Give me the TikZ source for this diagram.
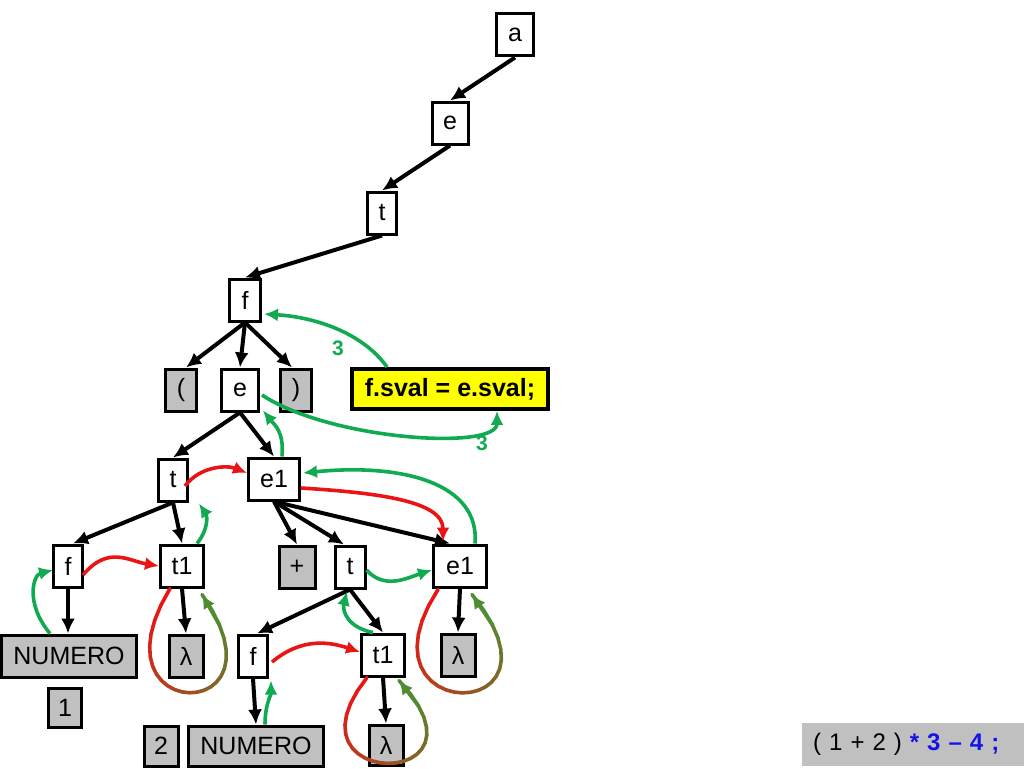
\documentclass[tikz,border=0pt]{standalone}
\usepackage{fontspec}
\setmainfont{Liberation Sans}
\usetikzlibrary{arrows.meta,calc}
\definecolor{gr}{RGB}{16,170,80}
\definecolor{rd}{RGB}{235,20,20}
\definecolor{lg}{RGB}{80,140,50}
\definecolor{gy}{RGB}{192,192,192}
\definecolor{yl}{RGB}{255,255,0}
\definecolor{bl}{RGB}{20,20,230}
\newcommand{\gradloop}[5]{%
  \path #2 .. controls +#3 and +#4 .. #5
    \foreach \k [evaluate=\k as \p using \k/24] in {0,...,24}{coordinate[pos=\p] (#1-\k)};
  \foreach \k [evaluate=\k as \m using int(\k+1), evaluate=\k as \c using int(100*\k/23)] in {0,...,23}{
    \draw[line width=3.6pt, line cap=round, color=lg!\c!rd] (#1-\k) -- (#1-\m);}
  \draw[line width=3.6pt, lg, -{Latex[length=14pt,width=13pt]}] (#1-22) -- (#1-24);
}
\begin{document}
\begin{tikzpicture}[x=1pt,y=-1pt,
  box/.style={draw=black, line width=3pt, fill=white, minimum height=42pt, minimum width=29pt, inner sep=0pt, font=\fontsize{25}{25}\selectfont},
  gbox/.style={box, fill=gy},
  tree/.style={line width=4pt, -{Latex[length=15pt,width=14pt]}},
  ga/.style={gr, line width=3.6pt, -{Latex[length=14pt,width=13pt]}},
  ra/.style={rd, line width=3.6pt, -{Latex[length=14pt,width=13pt]}},
  lab/.style={text=gr, font=\bfseries\fontsize{21}{21}\selectfont, inner sep=0pt}
]
\useasboundingbox (0,0) rectangle (1024,768);

% nodes
\node[box, minimum width=37pt] (a) at (515,35) {a};
\node[box, minimum width=36pt] (e0) at (450,123) {e};
\node[box] (t0) at (382,213) {t};
\node[box, minimum width=31pt] (f0) at (245,300) {f};
\node[gbox, minimum width=31pt] (lp) at (181,390) {(};
\node[box, minimum width=37pt] (e2) at (240,390) {e};
\node[gbox, minimum width=31pt] (rp) at (296,390) {)};
\node[box, fill=yl, line width=3.8pt, minimum width=196pt, minimum height=40pt, font=\bfseries\fontsize{25}{25}\selectfont] (yb) at (450,389) {f.sval = e.sval;};
\node[box] (t3) at (173,480) {t};
\node[box, minimum width=51pt] (e13) at (274,479) {e1};
\node[box] (f4) at (68,566) {f};
\node[box, minimum width=43pt] (t14) at (182,566) {t1};
\node[gbox, minimum width=36pt] (plus) at (297,567) {+};
\node[box, minimum width=30pt] (t4) at (350,567) {t};
\node[box, minimum width=53pt] (e14) at (460,566) {e1};
\node[gbox, minimum width=135pt] (num1) at (69,656) {NUMERO};
\node[gbox, minimum width=34pt] (lam1) at (186,656) {λ};
\node[box] (f5) at (253,656) {f};
\node[box, minimum width=43pt] (t15) at (383,655) {t1};
\node[gbox, minimum width=34pt] (lam3) at (458,655) {λ};
\node[gbox, minimum width=33pt, minimum height=39pt] (one) at (65,708) {1};
\node[gbox, minimum width=34pt, minimum height=40pt] (two) at (161,746) {2};
\node[gbox, minimum width=135pt, minimum height=40pt] (num2) at (256,746) {NUMERO};
\node[gbox, minimum width=34pt, minimum height=40pt] (lam2) at (386,745) {λ};
\node[fill=gy, anchor=west, text width=202pt, align=left, inner xsep=11pt, minimum height=43pt, inner ysep=0pt, font=\fontsize{24}{24}\selectfont] (expr) at (802,744) {( 1 + 2 ) \textcolor{bl}{\bfseries * 3 – 4 ;}};

% tree edges
\draw[tree] (a.south) -- (e0.north);
\draw[tree] (e0.south) -- (t0.north);
\draw[tree] (t0.south) -- (f0.north);
\draw[tree] (f0.south) -- ($(lp.north)+(5,0)$);
\draw[tree] (f0.south) -- (e2.north);
\draw[tree] (f0.south) -- ($(rp.north)+(-4,0)$);
\draw[tree] (e2.south) -- (t3.north);
\draw[tree] (e2.south) -- (e13.north);
\draw[tree] (t3.south) -- ($(f4.north)+(5,0)$);
\draw[tree] (t3.south) -- (t14.north);
\draw[tree] (e13.south) -- (plus.north);
\draw[tree] (e13.south) -- ($(t4.north)+(-6,0)$);
\draw[tree] (e13.south) -- ($(e14.north)+(-10,0)$);
\draw[tree] (f4.south) -- (f4.south |- num1.north);
\draw[tree] (t14.south) -- (lam1.north);
\draw[tree] (t4.south) -- ($(f5.north)+(4,0)$);
\draw[tree] (t4.south) -- (t15.north);
\draw[tree] (e14.south) -- (lam3.north);
\draw[tree] (f5.south) -- (num2.north);
\draw[tree] (t15.south) -- (lam2.north);

% green (synthesized) arrows
\draw[ga] ($(yb.north west)+(37,0)$) .. controls +(-25,-35) and +(50,3) .. ($(f0.east)+(2,14)$);
\node[lab] (l1) at (338,348) {3};
\draw[ga] ($(e2.east)+(2,5)$) .. controls +(68,45) and +(0,40) .. ($(yb.south)+(47,0)$);
\node[lab] (l2) at (482,443) {3};
\draw[ga] ($(e13.north)+(8,0)$) .. controls +(2,-25) and +(12,15) .. ($(e2.south east)+(3,-2)$);
\draw[ga] ($(e14.north)+(15,0)$) .. controls +(5,-60) and +(100,-10) .. ($(e13.east)+(2,-6)$);
\draw[ga] ($(t14.north)+(15,0)$) .. controls +(12,-15) and +(8,12) .. ($(t3.south east)+(10,1)$);
\draw[ga] ($(num1.north)+(-19,0)$) .. controls +(-25,-30) and +(-20,5) .. ($(f4.west)+(1,4)$);
\draw[ga] ($(t4.east)+(0,3)$) .. controls +(18,20) and +(-25,8) .. ($(e14.west)+(0,4)$);
\draw[ga] ($(t15.north)+(-10,0)$) .. controls +(-25,-5) and +(-5,20) .. ($(t4.south)+(-3,2)$);
\draw[ga] ($(num2.north)+(9,0)$) .. controls +(0,-20) and +(0,15) .. ($(f5.south east)+(2,2)$);

% red (inherited) arrows
\draw[ra] ($(t3.east)+(-4,6)$) .. controls +(15,-20) and +(-20,-8) .. ($(e13.west)+(0,-6)$);
\draw[ra] ($(e13.east)+(0,9)$) .. controls +(80,5) and +(0,-40) .. ($(e14.north)+(-17,-2)$);
\draw[ra] ($(f4.east)+(-1,9)$) .. controls +(25,-30) and +(-30,-5) .. (t14.west);
\draw[ra] ($(f5.east)+(3,6)$) .. controls +(30,-25) and +(-30,-10) .. ($(t15.west)+(0,-3)$);

% gradient loops
\gradloop{L1}{($(t14.south)+(-12,0)$)}{(-84,138)}{(93,132)}{($(t14.south)+(20,6)$)}
\gradloop{L2}{($(t15.south)+(-16,0)$)}{(-91,114)}{(104,111)}{($(t15.south)+(16,3)$)}
\gradloop{L3}{($(e14.south)+(-22,1)$)}{(-89,137)}{(108,132)}{($(e14.south)+(12,6)$)}
\end{tikzpicture}
\end{document}
